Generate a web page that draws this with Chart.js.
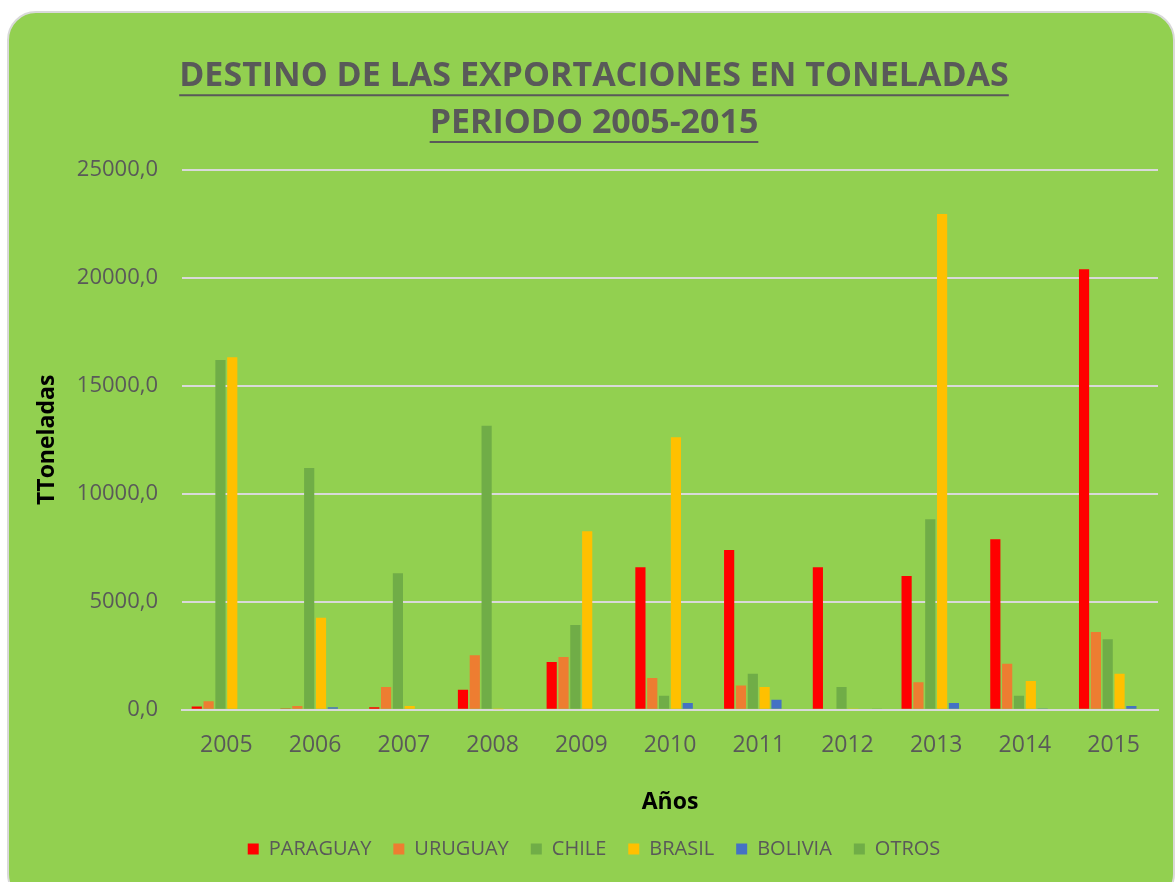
<!DOCTYPE html>
<html>
<head>
<meta charset="utf-8">
<script src="https://cdn.jsdelivr.net/npm/chart.js@4.4.0/dist/chart.umd.min.js"></script>
<style>
  html, body { margin: 0; padding: 0; background: #ffffff; }
  #wrap { width: 1176px; height: 882px; position: relative; }
</style>
</head>
<body>
<div id="wrap"><canvas id="chart" width="1176" height="882"></canvas></div>
<script>
// Data (toneladas)
const years = ['2005', '2006', '2007', '2008', '2009', '2010', '2011', '2012', '2013', '2014', '2015'];
const paraguay = [150, 60, 120, 930, 2210, 6600, 7400, 6600, 6200, 7900, 20400];
const uruguay  = [400, 180, 1050, 2530, 2450, 1470, 1120, 0, 1270, 2130, 3600];
const chile    = [16200, 11200, 6320, 13150, 3930, 650, 1670, 1060, 8820, 650, 3270];
const brasil   = [16320, 4260, 180, 30, 8270, 12620, 1050, 40, 22950, 1330, 1670];
const bolivia  = [0, 120, 0, 0, 0, 320, 460, 0, 320, 60, 180];
const otros    = [0, 50, 50, 50, 0, 0, 0, 40, 0, 0, 0];
const yTicks = [0, 5000, 10000, 15000, 20000, 25000];

const textColor = '#595959';
const fontFamily = '"Open Sans", "Noto Sans", sans-serif';

// green rounded panel behind the chart
const panelPlugin = {
    id: 'panel',
    beforeDraw(chart) {
        const ctx = chart.ctx;
        ctx.save();
        ctx.fillStyle = '#ffffff';
        ctx.fillRect(0, 0, chart.width, chart.height);
        ctx.beginPath();
        ctx.roundRect(8, 12, 1166, 890, 28);
        ctx.fillStyle = '#92D050';
        ctx.fill();
        ctx.lineWidth = 2;
        ctx.strokeStyle = '#d9d9d9';
        ctx.stroke();
        ctx.restore();
    }
};

// underline under each title line
const underlinePlugin = {
    id: 'underline',
    afterDraw(chart) {
        const t = chart.titleBlock;
        if (!t) return;
        const opts = chart.options.plugins.title;
        const size = opts.font.size;
        const lineHeight = size * opts.font.lineHeight;
        const ctx = chart.ctx;
        ctx.save();
        ctx.font = 'bold ' + size + 'px ' + fontFamily;
        ctx.strokeStyle = textColor;
        ctx.lineWidth = 2;
        const cx = (t.left + t.right) / 2;
        opts.text.forEach(function(line, i) {
            const w = ctx.measureText(line).width;
            const y = t.top + opts.padding.top + lineHeight / 2 + i * lineHeight + size * 0.55;
            ctx.beginPath();
            ctx.moveTo(cx - w / 2, y);
            ctx.lineTo(cx + w / 2, y);
            ctx.stroke();
        });
        ctx.restore();
    }
};

function series(label, data, color) {
    return {
        label: label,
        data: data,
        backgroundColor: color,
        borderWidth: 0,
        categoryPercentage: 0.8,
        barPercentage: 0.86
    };
}

new Chart(document.getElementById('chart'), {
    type: 'bar',
    data: {
        labels: years,
        datasets: [
            series('PARAGUAY', paraguay, '#FF0000'),
            series('URUGUAY', uruguay, '#ED7D31'),
            series('CHILE', chile, '#70AD47'),
            series('BRASIL', brasil, '#FFC000'),
            series('BOLIVIA', bolivia, '#4472C4'),
            series('OTROS', otros, '#70AD47')
        ]
    },
    options: {
        responsive: false,
        animation: false,
        devicePixelRatio: 1,
        layout: { padding: { left: 30, right: 18, top: 36, bottom: 13 } },
        plugins: {
            title: {
                display: true,
                text: ['DESTINO DE LAS EXPORTACIONES EN TONELADAS', 'PERIODO 2005-2015'],
                color: textColor,
                font: { family: fontFamily, size: 34, weight: 'bold', lineHeight: 1.38 },
                padding: { top: 17, bottom: 23 }
            },
            legend: {
                position: 'bottom',
                labels: {
                    color: textColor,
                    font: { family: fontFamily, size: 20 },
                    boxWidth: 11,
                    boxHeight: 11,
                    padding: 22
                }
            },
            tooltip: { enabled: false }
        },
        scales: {
            x: {
                grid: { display: false },
                border: { color: '#d9d9d9', width: 2 },
                ticks: { color: textColor, font: { family: fontFamily, size: 23 }, padding: 14 },
                title: {
                    display: true,
                    text: 'Años',
                    color: '#000000',
                    font: { family: fontFamily, size: 23, weight: 'bold' },
                    padding: { top: 15, bottom: 1 }
                }
            },
            y: {
                min: 0,
                max: 25000,
                afterBuildTicks(axis) {
                    axis.ticks = yTicks.map(v => ({ value: v }));
                },
                afterFit(axis) {
                    axis.width = 152;
                },
                grid: { color: '#d9d9d9', lineWidth: 2, drawTicks: false },
                border: { display: false },
                ticks: {
                    color: textColor,
                    font: { family: fontFamily, size: 22 },
                    padding: 24,
                    callback: v => v.toFixed(1).replace('.', ',')
                },
                title: {
                    display: true,
                    text: 'TToneladas',
                    color: '#000000',
                    font: { family: fontFamily, size: 23, weight: 'bold' },
                    padding: { top: 4, bottom: 11 }
                }
            }
        }
    },
    plugins: [panelPlugin, underlinePlugin]
});
</script>
</body>
</html>
